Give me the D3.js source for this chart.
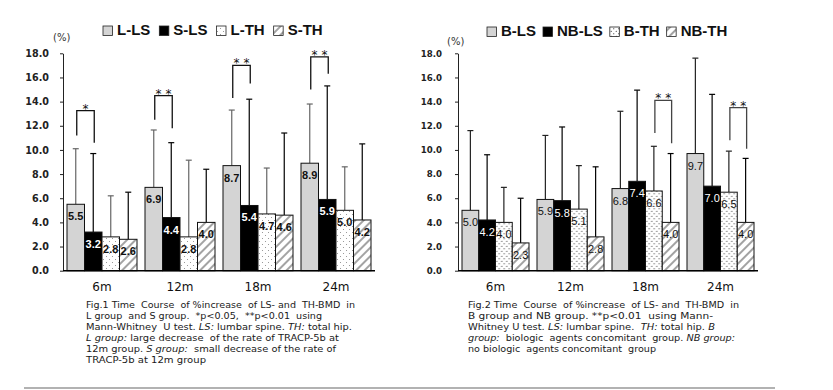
<!DOCTYPE html>
<html><head><meta charset="utf-8">
<script src="https://cdn.jsdelivr.net/npm/d3@7"></script>
<style>
html,body{margin:0;padding:0;background:#fff;}
svg{display:block;}
</style></head>
<body><svg id="c" width="833" height="390"></svg>
<script>
// ---------- DATA ----------
const categories = ["6m", "12m", "18m", "24m"];
const yTicks = [0, 2, 4, 6, 8, 10, 12, 14, 16, 18];

// Fig.1
const fig1Series = ["L-LS", "S-LS", "L-TH", "S-TH"];
const fig1_LLS = [5.5, 6.9, 8.7, 8.9];
const fig1_SLS = [3.2, 4.4, 5.4, 5.9];
const fig1_LTH = [2.8, 2.8, 4.7, 5.0];
const fig1_STH = [2.6, 4.0, 4.6, 4.2];
const fig1_LLS_sd = [4.6, 4.75, 4.6, 4.9];
const fig1_SLS_sd = [6.5, 6.2, 8.8, 9.4];
const fig1_LTH_sd = [3.4, 6.35, 3.8, 3.6];
const fig1_STH_sd = [3.9, 4.4, 6.8, 6.3];
// significance brackets: category, series a, series b, label, top value, leg-a bottom, leg-b bottom
const fig1Sig = [
  ["6m", "L-LS", "S-LS", "*", 13.25, 11.2, 10.6],
  ["12m", "L-LS", "S-LS", "* *", 14.5, 12.5, 11.8],
  ["18m", "L-LS", "S-LS", "* *", 17.0, 14.3, 15.5],
  ["24m", "L-LS", "S-LS", "* *", 17.7, 15.0, 16.3]
];
const fig1Caption = [
  [["Fig.1 Time  Course  of %increase  of LS- and  TH-BMD  in", 0]],
  [["L group  and S group.  *p<0.05,  **p<0.01  using", 0]],
  [["Mann-Whitney  U test. ", 0], ["LS:", 1], [" lumbar spine. ", 0], ["TH:", 1], [" total hip.", 0]],
  [["L group:", 1], [" large decrease  of the rate of TRACP-5b at", 0]],
  [["12m group. ", 0], ["S group:", 1], ["  small decrease of the rate of", 0]],
  [["TRACP-5b at 12m group", 0]]
];

// Fig.2
const fig2Series = ["B-LS", "NB-LS", "B-TH", "NB-TH"];
const fig2_BLS = [5.0, 5.9, 6.8, 9.7];
const fig2_NBLS = [4.2, 5.8, 7.4, 7.0];
const fig2_BTH = [4.0, 5.1, 6.6, 6.5];
const fig2_NBTH = [2.3, 2.8, 4.0, 4.0];
const fig2_BLS_sd = [6.6, 5.3, 6.4, 7.9];
const fig2_NBLS_sd = [5.4, 6.1, 7.55, 7.6];
const fig2_BTH_sd = [2.9, 3.6, 3.7, 3.4];
const fig2_NBTH_sd = [3.7, 5.8, 5.7, 5.3];
const fig2Sig = [
  ["18m", "B-TH", "NB-TH", "* *", 14.1, 11.4, 10.55],
  ["24m", "B-TH", "NB-TH", "* *", 13.5, 10.8, 10.1]
];
const fig2Caption = [
  [["Fig.2 Time  Course  of %increase  of LS- and  TH-BMD  in", 0]],
  [["B group and NB group. **p<0.01  using Mann-", 0]],
  [["Whitney U test. ", 0], ["LS:", 1], [" lumbar spine.  ", 0], ["TH:", 1], [" total hip. ", 0], ["B", 1]],
  [["group:", 1], ["  biologic  agents concomitant  group. ", 0], ["NB group:", 1]],
  [["no biologic  agents concomitant  group", 0]]
];

// ---------- DRAW ----------
const svg = d3.select("#c");
const defs = svg.append("defs");

function dots(id, step, r, color) {
  const p = defs.append("pattern").attr("id", id).attr("patternUnits", "userSpaceOnUse")
    .attr("width", step).attr("height", step);
  p.append("rect").attr("width", step).attr("height", step).attr("fill", "#fff");
  p.append("circle").attr("cx", step / 4).attr("cy", step / 4).attr("r", r).attr("fill", color);
  p.append("circle").attr("cx", step * 3 / 4).attr("cy", step * 3 / 4).attr("r", r).attr("fill", color);
}
dots("dotsA", 6, 0.55, "#888");
dots("dotsB", 5, 0.6, "#222");
const h = defs.append("pattern").attr("id", "hatch").attr("patternUnits", "userSpaceOnUse")
  .attr("width", 6).attr("height", 6).attr("patternTransform", "rotate(45)");
h.append("rect").attr("width", 6).attr("height", 6).attr("fill", "#fff");
h.append("line").attr("x1", 1).attr("y1", 0).attr("x2", 1).attr("y2", 6)
  .attr("stroke", "#999").attr("stroke-width", 1.8);

function chart(cfg) {
  const g = svg.append("g");
  const y = d3.scaleLinear().domain([0, 18]).range([270.7, 53.3]);
  const x = d3.scaleBand().domain(categories).range([cfg.x0, cfg.x1]);
  const xs = d3.scaleBand().domain(cfg.series).range([4, x.bandwidth() - 4]);

  // y axis
  const ya = g.append("g").attr("transform", `translate(${cfg.x0},0)`)
    .call(d3.axisLeft(y).tickValues(yTicks).tickFormat(d3.format(".1f"))
      .tickSize(3).tickSizeOuter(0).tickPadding(cfg.tickPad));
  ya.select(".domain").attr("stroke", "#222").attr("stroke-width", 1);
  ya.selectAll(".tick line").attr("stroke", "#222");
  ya.selectAll(".tick text").attr("font-family", "DejaVu Sans").attr("font-weight", "bold")
    .attr("font-size", cfg.tickFont).attr("fill", "#222");

  // x axis labels
  const xa = g.append("g").attr("transform", `translate(0,${y(0)})`)
    .call(d3.axisBottom(x).tickSize(0).tickPadding(11.5));
  xa.select(".domain").remove();
  xa.selectAll(".tick text").attr("font-family", "DejaVu Sans").attr("font-size", 12).attr("fill", "#111");

  // bars
  const rows = [];
  cfg.series.forEach((s, si) => categories.forEach((c, ci) => {
    rows.push({ s, si, c, v: cfg.values[si][ci], sd: cfg.sds[si][ci] });
  }));
  const fills = ["#d4d4d4", "#000", cfg.dotId, "url(#hatch)"];
  const bars = g.append("g").selectAll("g").data(rows).join("g")
    .attr("transform", d => `translate(${x(d.c) + xs(d.s)},0)`);
  // error bars
  bars.append("line").attr("x1", xs.bandwidth() / 2).attr("x2", xs.bandwidth() / 2)
    .attr("y1", d => y(d.v)).attr("y2", d => y(d.v + d.sd))
    .attr("stroke", d => (d.si % 2 === 0 ? cfg.errA : "#000")).attr("stroke-width", 1.2);
  bars.append("line").attr("x1", xs.bandwidth() / 2 - 3).attr("x2", xs.bandwidth() / 2 + 3)
    .attr("y1", d => y(d.v + d.sd)).attr("y2", d => y(d.v + d.sd))
    .attr("stroke", d => (d.si % 2 === 0 ? cfg.errA : "#000")).attr("stroke-width", 1.2);
  bars.append("rect").attr("x", 0).attr("width", xs.bandwidth())
    .attr("y", d => y(d.v)).attr("height", d => y(0) - y(d.v))
    .attr("fill", d => fills[d.si]).attr("stroke", "#111").attr("stroke-width", 1);
  bars.append("text").attr("x", xs.bandwidth() / 2).attr("y", d => y(d.v) + 16)
    .attr("text-anchor", "middle").attr("font-family", "Liberation Sans")
    .attr("font-weight", cfg.labelWeight).attr("font-size", 11)
    .attr("fill", d => (d.si === 1 ? "#fff" : "#111"))
    .text(d => d3.format(".1f")(d.v));

  // x axis line
  g.append("line").attr("x1", cfg.x0).attr("x2", cfg.x1).attr("y1", y(0)).attr("y2", y(0))
    .attr("stroke", "#000").attr("stroke-width", 1.5);

  // significance brackets
  const sg = g.append("g").selectAll("g").data(cfg.sig).join("g");
  sg.append("path").attr("fill", "none").attr("stroke", cfg.bracketColor).attr("stroke-width", 1.3)
    .attr("d", d => {
      const xa_ = x(d[0]) + xs(d[1]) + xs.bandwidth() / 2 + 1;
      const xb_ = x(d[0]) + xs(d[2]) + xs.bandwidth() / 2 + 1;
      return `M${xa_},${y(d[5])}V${y(d[4])}H${xb_}V${y(d[6])}`;
    });
  sg.append("text").attr("text-anchor", "middle").attr("font-family", "DejaVu Sans")
    .attr("font-size", 12).attr("fill", "#111")
    .attr("x", d => x(d[0]) + (xs(d[1]) + xs(d[2])) / 2 + xs.bandwidth() / 2 + 1)
    .attr("y", d => y(d[4]) + 2).text(d => d[3]);

  // (%) unit
  g.append("text").attr("x", cfg.pctX).attr("y", cfg.pctY).attr("font-family", "DejaVu Sans")
    .attr("font-size", 10).attr("fill", "#333").text("(%)");

  // legend
  let lx = cfg.legendX;
  cfg.series.forEach((s, si) => {
    g.append("rect").attr("x", lx).attr("y", cfg.legendY - 9).attr("width", 9.5).attr("height", 9.5)
      .attr("fill", fills[si]).attr("stroke", "#222").attr("stroke-width", 0.8);
    const t = g.append("text").attr("x", lx + 14).attr("y", cfg.legendY)
      .attr("font-family", "Liberation Sans").attr("font-weight", "bold").attr("font-size", 15)
      .attr("fill", "#111").text(s);
    lx += 14 + t.node().getComputedTextLength() + cfg.legendGap;
  });

  // caption
  cfg.caption.forEach((line, li) => {
    const t = g.append("text").attr("x", cfg.capX).attr("y", 307.5 + li * 11)
      .attr("font-family", "DejaVu Sans").attr("font-size", 9.5).attr("fill", "#1a1a1a")
      .attr("xml:space", "preserve");
    line.forEach(seg => {
      t.append("tspan").attr("font-style", seg[1] ? "italic" : "normal").text(seg[0]);
    });
    t.attr("textLength", cfg.capW[li]).attr("lengthAdjust", "spacingAndGlyphs");
  });
}

chart({
  x0: 63, x1: 375, series: fig1Series,
  values: [fig1_LLS, fig1_SLS, fig1_LTH, fig1_STH],
  sds: [fig1_LLS_sd, fig1_SLS_sd, fig1_LTH_sd, fig1_STH_sd],
  dotId: "url(#dotsA)", errA: "#666", sig: fig1Sig, bracketColor: "#111",
  tickPad: 11, tickFont: 9.6, labelWeight: "bold",
  pctX: 53, pctY: 41, legendX: 103, legendY: 35, legendGap: 9,
  caption: fig1Caption, capX: 86, capW: [269, 236, 266, 253, 250, 120]
});
chart({
  x0: 458, x1: 758, series: fig2Series,
  values: [fig2_BLS, fig2_NBLS, fig2_BTH, fig2_NBTH],
  sds: [fig2_BLS_sd, fig2_NBLS_sd, fig2_BTH_sd, fig2_NBTH_sd],
  dotId: "url(#dotsB)", errA: "#222", sig: fig2Sig, bracketColor: "#444",
  tickPad: 13, tickFont: 8.6, labelWeight: "normal",
  pctX: 447, pctY: 45, legendX: 487, legendY: 36, legendGap: 7,
  caption: fig2Caption, capX: 468, capW: [271, 245, 247, 267, 188]
});

// bottom rule
svg.append("line").attr("x1", 24).attr("x2", 775).attr("y1", 388).attr("y2", 388)
  .attr("stroke", "#999").attr("stroke-width", 1.5);
</script>
</body></html>
